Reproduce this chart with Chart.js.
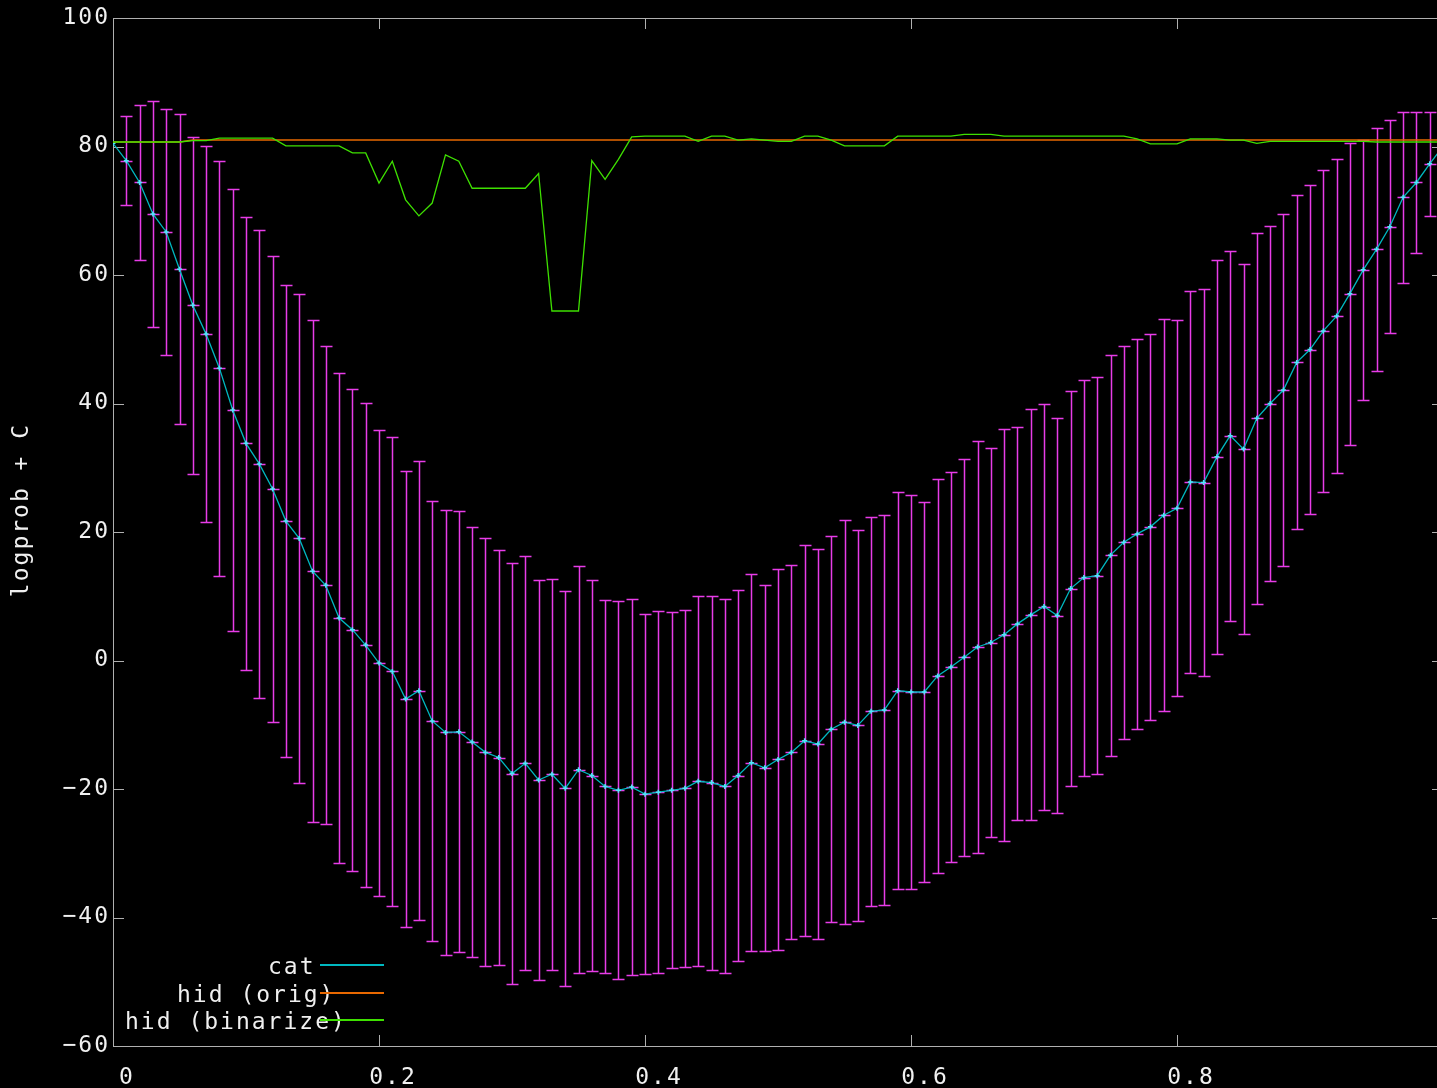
<!DOCTYPE html>
<html>
<head>
<meta charset="utf-8">
<script src="https://cdn.jsdelivr.net/npm/chart.js@4.4.1/dist/chart.umd.min.js"></script>
<style>
html, body { margin: 0; padding: 0; background: #000; overflow: hidden; }
#chart { display: block; }
</style>
</head>
<body>
<canvas id="chart" width="1450" height="1088"></canvas>
<script>
const xValues = [
    0, 0.01, 0.02, 0.03, 0.04, 0.05, 0.06, 0.07, 0.08, 0.09,
    0.1, 0.11, 0.12, 0.13, 0.14, 0.15, 0.16, 0.17, 0.18, 0.19,
    0.2, 0.21, 0.22, 0.23, 0.24, 0.25, 0.26, 0.27, 0.28, 0.29,
    0.3, 0.31, 0.32, 0.33, 0.34, 0.35, 0.36, 0.37, 0.38, 0.39,
    0.4, 0.41, 0.42, 0.43, 0.44, 0.45, 0.46, 0.47, 0.48, 0.49,
    0.5, 0.51, 0.52, 0.53, 0.54, 0.55, 0.56, 0.57, 0.58, 0.59,
    0.6, 0.61, 0.62, 0.63, 0.64, 0.65, 0.66, 0.67, 0.68, 0.69,
    0.7, 0.71, 0.72, 0.73, 0.74, 0.75, 0.76, 0.77, 0.78, 0.79,
    0.8, 0.81, 0.82, 0.83, 0.84, 0.85, 0.86, 0.87, 0.88, 0.89,
    0.9, 0.91, 0.92, 0.93, 0.94, 0.95, 0.96, 0.97, 0.98, 0.99,
    1.0
];

// cat: mean and error bar half-height
const catValues = [
    80.5, 77.8, 74.4, 69.5, 66.7, 60.9, 55.3, 50.8, 45.5, 39.0,
    33.8, 30.6, 26.7, 21.7, 19.0, 13.9, 11.7, 6.6, 4.8, 2.4,
    -0.4, -1.7, -6.0, -4.7, -9.4, -11.2, -11.1, -12.7, -14.3, -15.1,
    -17.6, -16.0, -18.6, -17.7, -19.9, -17.0, -17.9, -19.6, -20.2, -19.7,
    -20.8, -20.5, -20.2, -19.9, -18.8, -19.0, -19.6, -17.9, -15.9, -16.7,
    -15.4, -14.3, -12.5, -13.0, -10.7, -9.6, -10.1, -7.9, -7.7, -4.7,
    -4.9, -4.9, -2.4, -1.0, 0.5, 2.1, 2.8, 4.0, 5.7, 7.1,
    8.4, 7.0, 11.2, 12.9, 13.2, 16.4, 18.4, 19.7, 20.8, 22.6,
    23.7, 27.8, 27.7, 31.7, 35.0, 32.9, 37.7, 40.0, 42.1, 46.4,
    48.4, 51.3, 53.6, 57.1, 60.8, 64.0, 67.5, 72.1, 74.4, 77.3,
    80.0
];
const catErrors = [
    null, 6.9, 12.1, 17.6, 19.1, 24.1, 26.2, 29.3, 32.3, 34.4,
    35.3, 36.4, 36.3, 36.7, 38.1, 39.1, 37.2, 38.1, 37.5, 37.7,
    36.3, 36.5, 35.5, 35.7, 34.2, 34.7, 34.3, 33.5, 33.3, 32.3,
    32.7, 32.2, 31.1, 30.4, 30.7, 31.7, 30.4, 29.0, 29.4, 29.2,
    28.0, 28.2, 27.7, 27.8, 28.8, 29.1, 29.1, 28.8, 29.3, 28.5,
    29.7, 29.1, 30.4, 30.3, 30.0, 31.4, 30.4, 30.3, 30.4, 30.9,
    30.6, 29.6, 30.6, 30.3, 30.9, 32.1, 30.3, 32.1, 30.6, 32.0,
    31.6, 30.7, 30.8, 30.8, 30.9, 31.2, 30.6, 30.4, 30.0, 30.5,
    29.3, 29.7, 30.1, 30.7, 28.8, 28.8, 28.9, 27.7, 27.4, 26.0,
    25.6, 25.1, 24.4, 23.5, 20.2, 18.9, 16.6, 13.3, 10.9, 8.1,
    4.0
];

const origValues = [
    80.7, 80.7, 80.7, 80.7, 80.7, 80.7, 81.0, 81.0, 81.0, 81.0,
    81.0, 81.0, 81.0, 81.0, 81.0, 81.0, 81.0, 81.0, 81.0, 81.0,
    81.0, 81.0, 81.0, 81.0, 81.0, 81.0, 81.0, 81.0, 81.0, 81.0,
    81.0, 81.0, 81.0, 81.0, 81.0, 81.0, 81.0, 81.0, 81.0, 81.0,
    81.0, 81.0, 81.0, 81.0, 81.0, 81.0, 81.0, 81.0, 81.0, 81.0,
    81.0, 81.0, 81.0, 81.0, 81.0, 81.0, 81.0, 81.0, 81.0, 81.0,
    81.0, 81.0, 81.0, 81.0, 81.0, 81.0, 81.0, 81.0, 81.0, 81.0,
    81.0, 81.0, 81.0, 81.0, 81.0, 81.0, 81.0, 81.0, 81.0, 81.0,
    81.0, 81.0, 81.0, 81.0, 81.0, 81.0, 81.0, 81.0, 81.0, 81.0,
    81.0, 81.0, 81.0, 81.0, 81.0, 81.0, 81.0, 81.0, 81.0, 81.0,
    81.0
];

const binarizeValues = [
    80.7, 80.7, 80.7, 80.7, 80.7, 80.7, 80.9, 80.9, 81.3, 81.3,
    81.3, 81.3, 81.3, 80.1, 80.1, 80.1, 80.1, 80.1, 79.0, 79.0,
    74.3, 77.7, 71.7, 69.2, 71.2, 78.7, 77.7, 73.5, 73.5, 73.5,
    73.5, 73.5, 75.8, 54.4, 54.4, 54.4, 77.8, 74.9, 78.0, 81.5,
    81.6, 81.6, 81.6, 81.6, 80.8, 81.6, 81.6, 81.0, 81.2, 81.0,
    80.8, 80.8, 81.6, 81.6, 81.0, 80.1, 80.1, 80.1, 80.1, 81.6,
    81.6, 81.6, 81.6, 81.6, 81.9, 81.9, 81.9, 81.6, 81.6, 81.6,
    81.6, 81.6, 81.6, 81.6, 81.6, 81.6, 81.6, 81.2, 80.4, 80.4,
    80.4, 81.2, 81.2, 81.2, 81.0, 81.0, 80.5, 80.8, 80.8, 80.8,
    80.8, 80.8, 80.8, 80.8, 80.8, 80.7, 80.7, 80.7, 80.7, 80.7,
    80.7
];

const xTickValues = [0, 0.2, 0.4, 0.6, 0.8];
const xTickLabels = ['0', '0.2', '0.4', '0.6', '0.8'];
const yTickValues = [-60, -40, -20, 0, 20, 40, 60, 80, 100];
const yTickLabels = ['\u221260', '\u221240', '\u221220', '0', '20', '40', '60', '80', '100'];

const textColor = '#f0f0f0';
const frameColor = '#b0b0b0';
const barColor = '#e83ce8';
const monoFont = { family: '"DejaVu Sans Mono", monospace', size: 23 };

const toPoints = values => xValues.map((x, i) => ({ x: x, y: values[i] }));

const gnuplotLook = {
    id: 'gnuplotLook',
    beforeDraw(chart) {
        chart.ctx.letterSpacing = '2px';
    },
    beforeDatasetsDraw(chart) {
        const { ctx, chartArea: area, scales: { x, y } } = chart;
        ctx.save();
        ctx.lineWidth = 1;
        ctx.strokeStyle = frameColor;
        ctx.strokeRect(area.left + 0.5, area.top + 0.5, area.right - area.left, area.bottom - area.top);
        ctx.beginPath();
        x.ticks.forEach(t => {
            const px = Math.round(x.getPixelForValue(t.value)) + 0.5;
            ctx.moveTo(px, area.bottom);
            ctx.lineTo(px, area.bottom - 11);
            ctx.moveTo(px, area.top);
            ctx.lineTo(px, area.top + 11);
        });
        y.ticks.forEach(t => {
            const py = Math.round(y.getPixelForValue(t.value)) + 0.5;
            ctx.moveTo(area.left, py);
            ctx.lineTo(area.left + 11, py);
            ctx.moveTo(area.right, py);
            ctx.lineTo(area.right - 11, py);
        });
        ctx.stroke();

        // cat error bars
        ctx.beginPath();
        ctx.rect(area.left, area.top, area.right - area.left, area.bottom - area.top);
        ctx.clip();
        ctx.strokeStyle = barColor;
        ctx.lineWidth = 1.5;
        ctx.beginPath();
        xValues.forEach((xv, i) => {
            const err = catErrors[i];
            if (err == null) return;
            const px = Math.round(x.getPixelForValue(xv)) + 0.5;
            const top = Math.round(y.getPixelForValue(catValues[i] + err)) + 0.5;
            const mid = Math.round(y.getPixelForValue(catValues[i])) + 0.5;
            const bot = Math.round(y.getPixelForValue(catValues[i] - err)) + 0.5;
            ctx.moveTo(px, top);
            ctx.lineTo(px, bot);
            [top, mid, bot].forEach(py => {
                ctx.moveTo(px - 6, py);
                ctx.lineTo(px + 6, py);
            });
        });
        ctx.stroke();
        ctx.restore();
    },
    afterDraw(chart) {
        const ctx = chart.ctx;
        ctx.save();
        ctx.font = monoFont.size + 'px ' + monoFont.family;
        ctx.fillStyle = textColor;

        // key, bottom left
        ctx.textAlign = 'left';
        ctx.textBaseline = 'alphabetic';
        chart.data.datasets.forEach((ds, i) => {
            const rowY = 965 + i * 27.7;
            ctx.fillText(ds.label, 307 - ds.label.length * 13, rowY + 9);
            ctx.strokeStyle = ds.borderColor;
            ctx.lineWidth = 2;
            ctx.beginPath();
            ctx.moveTo(320, Math.round(rowY));
            ctx.lineTo(384, Math.round(rowY));
            ctx.stroke();
        });

        // y axis title
        ctx.translate(22, 510);
        ctx.rotate(-Math.PI / 2);
        ctx.textAlign = 'center';
        ctx.textBaseline = 'middle';
        ctx.fillText('logprob + C', 0, 0);
        ctx.restore();
    }
};

new Chart(document.getElementById('chart'), {
    type: 'line',
    data: {
        datasets: [
            {
                label: 'cat',
                data: toPoints(catValues),
                borderColor: '#00b8c0',
                borderWidth: 1.3,
                pointStyle: 'cross',
                pointRadius: 2.5,
                pointBorderColor: '#50e8f8',
                pointBorderWidth: 1.5,
                order: 2
            },
            {
                label: 'hid (orig)',
                data: toPoints(origValues),
                borderColor: '#e86800',
                borderWidth: 1.5,
                pointRadius: 0,
                order: 1
            },
            {
                label: 'hid (binarize)',
                data: toPoints(binarizeValues),
                borderColor: '#3ee000',
                borderWidth: 1.3,
                pointRadius: 0,
                order: 0
            }
        ]
    },
    options: {
        responsive: false,
        animation: false,
        devicePixelRatio: 1,
        layout: {
            padding: { top: 18, right: 7, left: 0, bottom: 0 }
        },
        scales: {
            x: {
                type: 'linear',
                min: 0,
                max: 1,
                afterFit(scale) { scale.height = 42; },
                afterBuildTicks(scale) { scale.ticks = xTickValues.map(v => ({ value: v })); },
                grid: { display: false, drawTicks: false },
                border: { display: false },
                ticks: {
                    color: textColor,
                    font: monoFont,
                    padding: 18,
                    labelOffset: 14,
                    maxRotation: 0,
                    callback: (value, index) => xTickLabels[index]
                }
            },
            y: {
                min: -60,
                max: 100,
                afterFit(scale) { scale.width = 113; },
                afterBuildTicks(scale) { scale.ticks = yTickValues.map(v => ({ value: v })); },
                grid: { display: false, drawTicks: false },
                border: { display: false },
                ticks: {
                    color: textColor,
                    font: monoFont,
                    padding: 3,
                    callback: (value, index) => yTickLabels[index]
                }
            }
        },
        plugins: {
            legend: { display: false },
            tooltip: { enabled: false }
        }
    },
    plugins: [gnuplotLook]
});
</script>
</body>
</html>
